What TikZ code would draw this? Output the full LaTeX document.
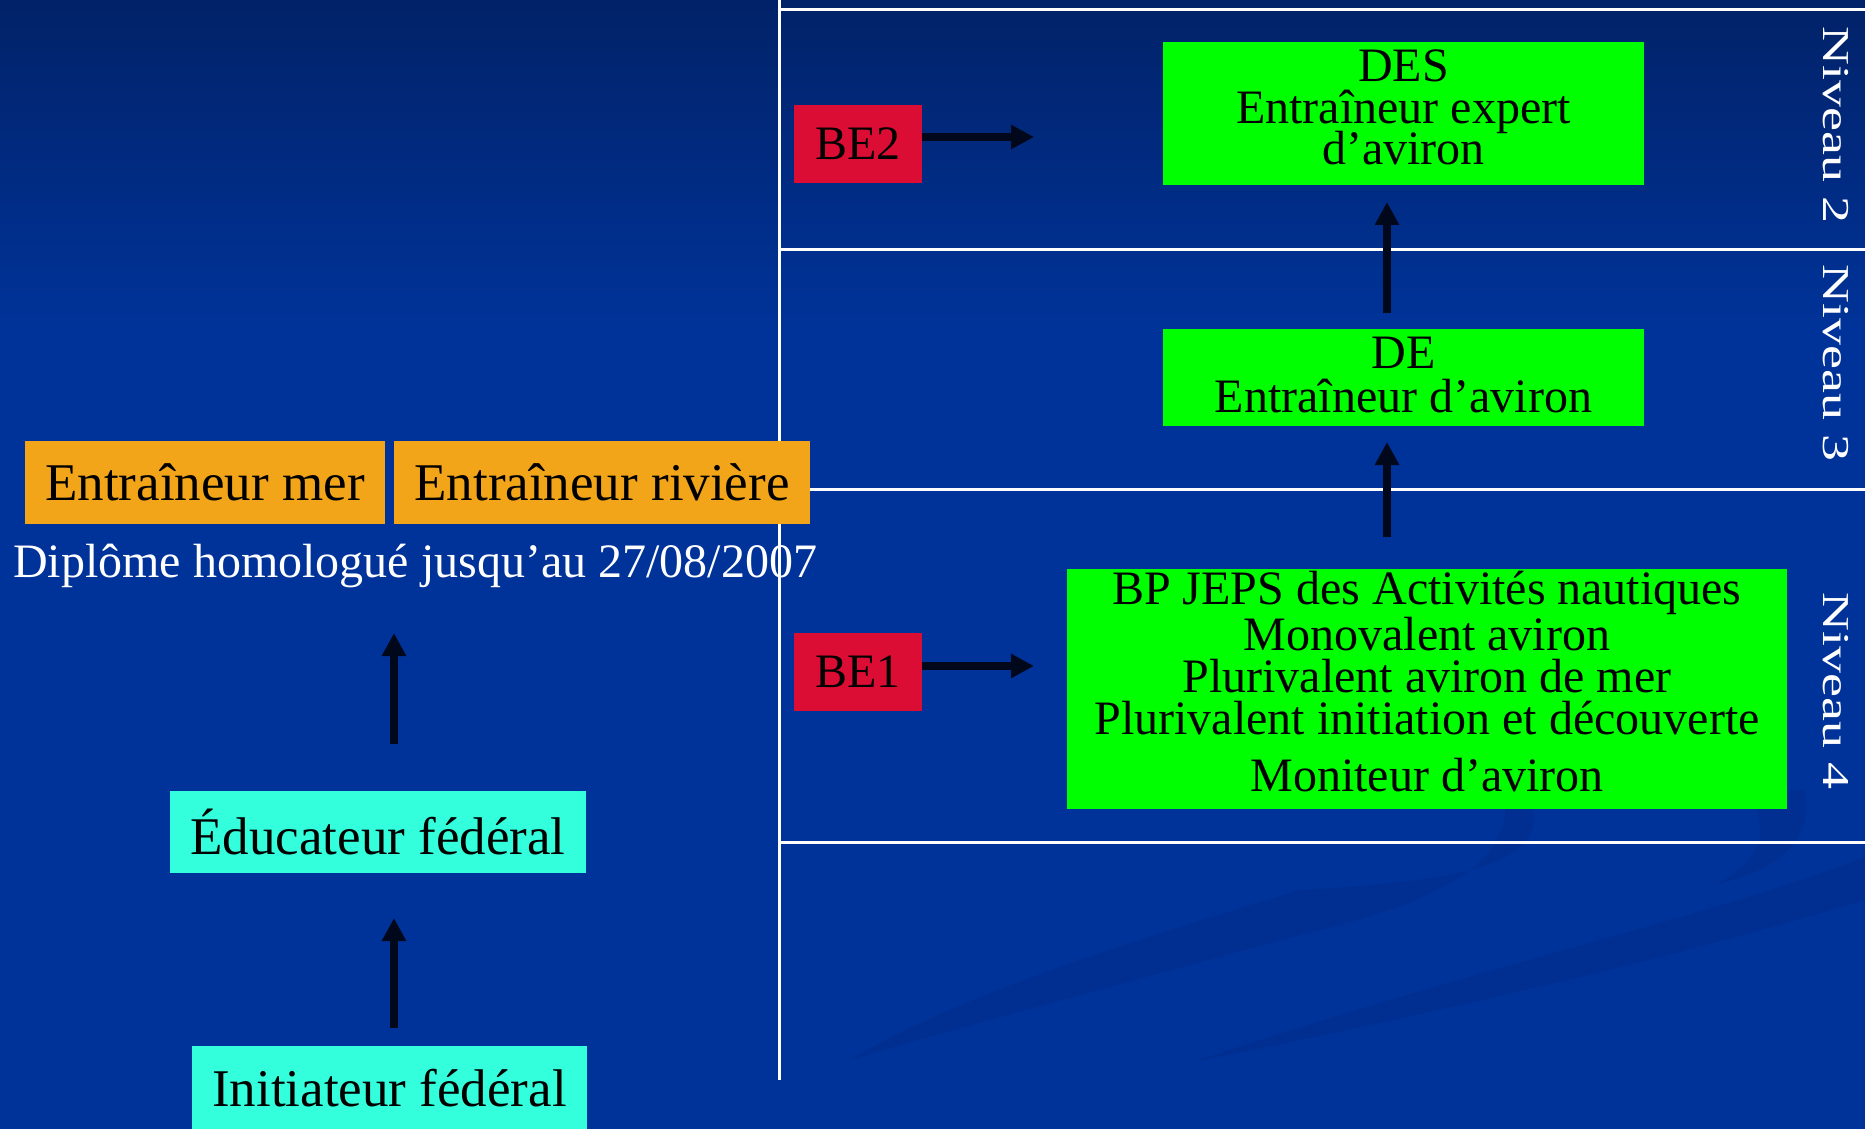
\documentclass[tikz,border=0pt]{standalone}
\usepackage{fontspec}
\setmainfont{Liberation Serif}
\newfontfamily\widefont[FakeStretch=1.42]{Liberation Serif}
\usetikzlibrary{arrows.meta}
\definecolor{bgblue}{RGB}{0,51,153}
\definecolor{bgtop}{RGB}{1,34,104}
\definecolor{bandc}{RGB}{0,47,145}
\definecolor{boxgreen}{RGB}{0,255,0}
\definecolor{boxorange}{RGB}{242,165,24}
\definecolor{boxred}{RGB}{220,13,53}
\definecolor{boxcyan}{RGB}{51,255,221}
\definecolor{arrowc}{RGB}{2,8,28}
\begin{document}
\begin{tikzpicture}[x=0.5pt,y=-0.5pt,
  box/.style={inner sep=0pt, outer sep=0pt, text=black, align=center},
  gbox/.style={box, fill=boxgreen},
  obox/.style={box, fill=boxorange, font=\fontsize{26.5pt}{30pt}\selectfont},
  cbox/.style={box, fill=boxcyan, font=\fontsize{26.5pt}{30pt}\selectfont},
  rbox/.style={box, fill=boxred, font=\fontsize{24pt}{28pt}\selectfont, minimum width=64pt, minimum height=39pt},
  gtext/.style={inner sep=0pt, text=black, align=center},
  arr/.style={draw=arrowc, line width=3.75pt, -{Triangle[length=11.5pt,width=11.5pt]}},
  wline/.style={draw=white, line width=1.5pt},
  niv/.style={text=white, font=\widefont\fontsize{19pt}{22pt}\selectfont, rotate=-90, inner sep=0pt},
  band/.style={fill=bandc}
]
\useasboundingbox (0,0) rectangle (1865,1129);
\clip (0,0) rectangle (1865,1129);
% background
\fill[bgblue] (0,0) rectangle (1865,1129);
\shade[top color=bgtop, bottom color=bgblue] (0,0) rectangle (1865,330);
% faint swooshes
\fill[band] (1531,800) .. controls (1550,860) and (1480,880) .. (1300,890)
  .. controls (1100,950) and (950,1000) .. (850,1060)
  .. controls (950,1030) and (1100,990) .. (1300,935)
  .. controls (1450,900) and (1510,860) .. (1505,800) -- cycle;
\fill[band] (1804,790) .. controls (1815,840) and (1780,870) .. (1714,885)
  .. controls (1765,860) and (1770,830) .. (1747,790) -- cycle;
\fill[band] (1865,857) .. controls (1700,920) and (1500,960) .. (1189,1063)
  .. controls (1500,1000) and (1700,950) .. (1865,900) -- cycle;
% grid lines
\draw[wline] (779,0) -- (779,1080);
\draw[wline] (779,9.5) -- (1865,9.5);
\draw[wline] (779,249) -- (1865,249);
\draw[wline] (779,489) -- (1865,489);
\draw[wline] (779,842) -- (1865,842);
% level labels
\node[niv] (n2) at (1836,125) {Niveau 2};
\node[niv] (n3) at (1836,363) {Niveau 3};
\node[niv] (n4) at (1836,691) {Niveau 4};
% right-hand boxes
\node[gbox, minimum width=240.5pt, minimum height=71.5pt] (des) at (1403.5,113.5) {};
\node[gtext, font={\fontsize{24pt}{20.75pt}\selectfont\lineskiplimit=-40pt}] (destext) at (1403.5,107.5) {DES\\Entraîneur expert\\d’aviron};
\node[gbox, minimum width=240.5pt, minimum height=48.5pt] (de) at (1403.5,377.5) {};
\node[gtext, font={\fontsize{24pt}{22pt}\selectfont\lineskiplimit=-40pt}] (detext) at (1403.5,375) {DE\\Entraîneur d’aviron};
\node[gbox, minimum width=360pt, minimum height=120pt] (bp) at (1427,689) {};
\node[gtext, font={\fontsize{24pt}{21pt}\selectfont\lineskiplimit=-40pt}] (bptext) at (1427,681.5)
  {BP JEPS des Activités nautiques\\[2pt]Monovalent aviron\\Plurivalent aviron de mer\\Plurivalent initiation et découverte\\[7.5pt]Moniteur d’aviron};
\node[rbox] (be2) at (858,144) {BE2};
\node[rbox] (be1) at (858,672) {BE1};
% left-hand boxes
\node[obox, minimum width=180pt, minimum height=41.5pt] (mer) at (205,482.5) {Entraîneur mer};
\node[obox, minimum width=208pt, minimum height=41.5pt] (riv) at (602,482.5) {Entraîneur rivière};
\node[anchor=base, inner sep=0pt, text=white, font=\fontsize{24pt}{28pt}\selectfont] (dip) at (415,577) {Diplôme homologué jusqu’au 27/08/2007};
\node[cbox, minimum width=208pt, minimum height=41pt] (educ) at (378,832) {Éducateur fédéral};
\node[cbox, minimum width=197.5pt, minimum height=42pt] (init) at (389.5,1088) {Initiateur fédéral};
% arrows
\coordinate (xl) at (394,0);
\coordinate (xr) at (1387,0);
\coordinate (y2) at (0,137);
\coordinate (y1) at (0,666);
\draw[arr, shorten <=9pt, shorten >=22.5pt] (init.north -| xl) -- (educ.south -| xl);
\draw[arr, shorten <=23.5pt, shorten >=54.5pt] (educ.north -| xl) -- (mer.south -| xl);
\draw[arr, shorten <=16pt, shorten >=8pt] (bp.north -| xr) -- (de.south -| xr);
\draw[arr, shorten <=8pt, shorten >=8.5pt] (de.north -| xr) -- (des.south -| xr);
\draw[arr, shorten >=64.5pt] (be2.east |- y2) -- (des.west |- y2);
\draw[arr, shorten >=16.5pt] (be1.east |- y1) -- (bp.west |- y1);
\end{tikzpicture}
\end{document}
